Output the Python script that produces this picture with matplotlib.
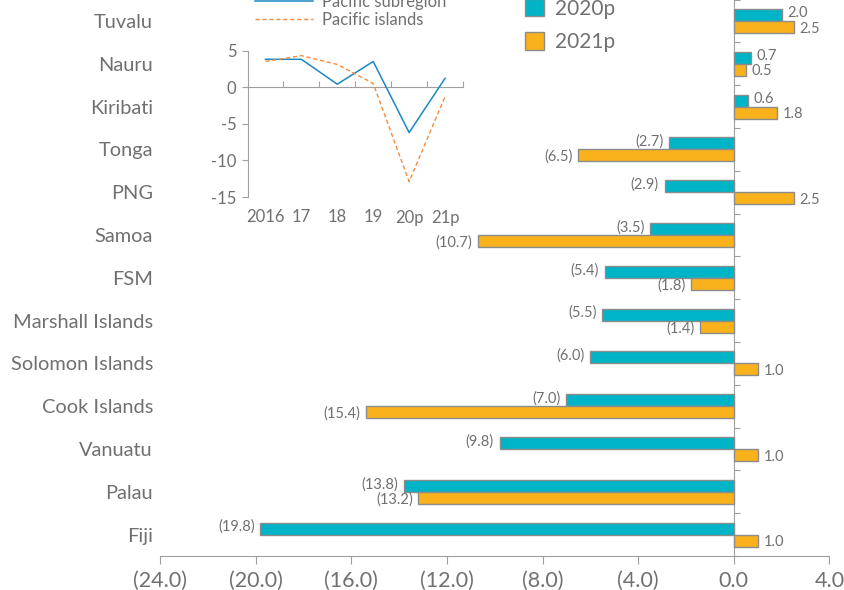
import matplotlib
matplotlib.use("Agg")
import matplotlib.pyplot as plt
import numpy as np

plt.rcParams['font.family'] = ['Lato', 'DejaVu Sans']

# main chart data
countries = ['Tuvalu', 'Nauru', 'Kiribati', 'Tonga', 'PNG', 'Samoa', 'FSM',
             'Marshall Islands', 'Solomon Islands', 'Cook Islands', 'Vanuatu',
             'Palau', 'Fiji']
growth_2020 = [2.0, 0.7, 0.6, -2.7, -2.9, -3.5, -5.4, -5.5, -6.0, -7.0, -9.8, -13.8, -19.8]
growth_2021 = [2.5, 0.5, 1.8, -6.5, 2.5, -10.7, -1.8, -1.4, 1.0, -15.4, 1.0, -13.2, 1.0]
series_names = ['2020p', '2021p']

# inset data
years = ['2016', '17', '18', '19', '20p', '21p']
subregion = [3.8, 3.8, 0.4, 3.5, -6.2, 1.2]
islands = [3.5, 4.3, 3.1, 0.5, -12.9, -1.3]

x_ticks = [-24, -20, -16, -12, -8, -4, 0, 4]

TEAL = '#00B4C8'
ORANGE = '#F9B21B'
EDGE = '#8C8C8C'
GRAY = '#707070'
AXIS = '#A0A0A0'

W, H = 844, 590
fig = plt.figure(figsize=(W / 100, H / 100), dpi=100)

def fx(px):
    return px / W

def fy(px):
    return 1 - px / H

ax = fig.add_axes([fx(160), fy(556), fx(829.5) - fx(160), fy(-0.5) - fy(556)])

y = np.arange(len(countries))
h = 0.28
b1 = ax.barh(y - h / 2, growth_2020, height=h, color=TEAL, edgecolor=EDGE, linewidth=1, label=series_names[0])
b2 = ax.barh(y + h / 2, growth_2021, height=h, color=ORANGE, edgecolor=EDGE, linewidth=1, label=series_names[1])

def fmt(v):
    return f'({abs(v):.1f})' if v < 0 else f'{v:.1f}'

# value labels: 2020p nudged up, 2021p nudged down a little
for bars, vals, dy in ((b1, growth_2020, 1.2), (b2, growth_2021, -1.2)):
    for bar, v in zip(bars, vals):
        cy = bar.get_y() + bar.get_height() / 2
        if v < 0:
            ax.annotate(fmt(v), (v, cy), xytext=(-4, dy), textcoords='offset points',
                        ha='right', va='center', fontsize=10.5, color=GRAY)
        else:
            ax.annotate(fmt(v), (v, cy), xytext=(4, dy), textcoords='offset points',
                        ha='left', va='center', fontsize=10.5, color=GRAY)

ax.set_xlim(-24, 4)
ax.set_ylim(len(countries) - 0.5, -0.5)
ax.set_xticks(x_ticks)
ax.set_xticklabels([fmt(float(t)) for t in x_ticks], fontsize=15.5, color=GRAY)
ax.tick_params(axis='x', direction='out', length=6, color=AXIS, pad=5)
ax.set_yticks(y)
ax.set_yticklabels(countries, fontsize=14.4, color=GRAY)
ax.tick_params(axis='y', length=0, pad=5)
for s in ('top', 'right', 'left'):
    ax.spines[s].set_visible(False)
ax.spines['bottom'].set_color(AXIS)

# zero line with category separators
zero_axis = ax.secondary_yaxis(24 / 28)
zero_axis.set_yticks(np.arange(len(countries) + 1) - 0.5)
zero_axis.set_yticklabels([])
zero_axis.tick_params(length=4, color=AXIS, direction='out')
for sp in zero_axis.spines.values():
    sp.set_color(AXIS)

fig.legend(handles=[b1, b2], labels=series_names, loc='upper left',
           bbox_to_anchor=(fx(506), fy(-20)), frameon=False, fontsize=15,
           labelcolor=GRAY, handlelength=0.9, handleheight=0.9,
           handletextpad=0.55, labelspacing=0.65)

# inset line chart
ins = fig.add_axes([fx(247.5), fy(197), fx(463) - fx(247.5), fy(50.5) - fy(197)])
xi = np.arange(len(years))
l1, = ins.plot(xi, subregion, color='#1B87C4', lw=1.1, label='Pacific subregion')
l2, = ins.plot(xi, islands, color='#F58A3C', lw=1.0, ls=(0, (3, 2)), label='Pacific islands')
ins.set_xlim(-0.5, len(years) - 0.5)
ins.set_ylim(-15, 5)
ins.set_yticks([5, 0, -5, -10, -15])
ins.set_yticklabels(['5', '0', '-5', '-10', '-15'], fontsize=12, color=GRAY)
ins.tick_params(axis='y', length=4, color=AXIS, pad=4)
ins.set_xticks(xi)
ins.set_xticklabels(years, fontsize=12, color=GRAY)
ins.tick_params(axis='x', length=0, pad=9)
for s in ('top', 'right', 'bottom'):
    ins.spines[s].set_visible(False)
ins.spines['left'].set_color(AXIS)
ins.patch.set_alpha(0)
zero_x = ins.secondary_xaxis(0.75)
zero_x.set_xticks(np.arange(len(years)) + 0.5)
zero_x.set_xticklabels([])
zero_x.tick_params(length=4, color=AXIS, direction='out')
for sp in zero_x.spines.values():
    sp.set_color(AXIS)

fig.legend(handles=[l1, l2], loc='upper left', bbox_to_anchor=(fx(240), fy(-21)),
           frameon=False, fontsize=12, labelcolor=GRAY, handlelength=3.5,
           handletextpad=0.5, labelspacing=0.1)

fig.savefig('out.png', dpi=100)
